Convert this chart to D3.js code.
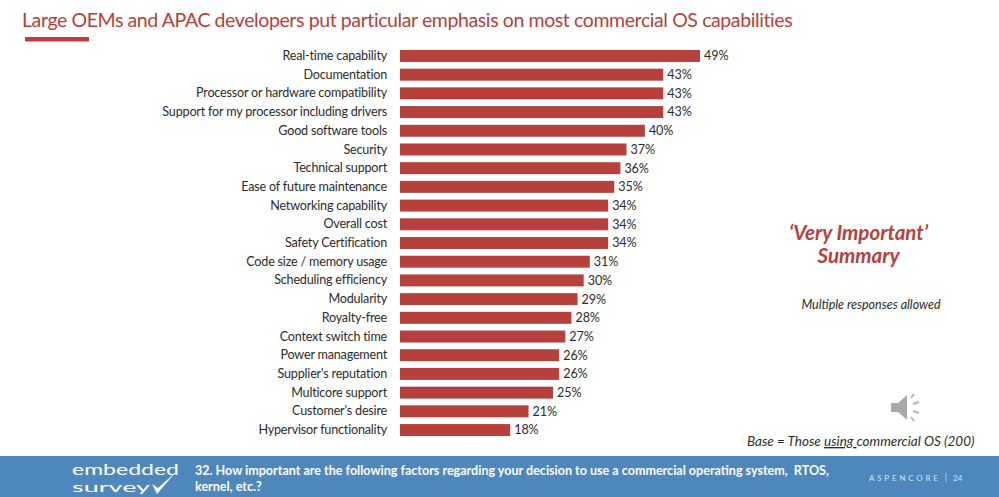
<!DOCTYPE html>
<html>
<head>
<meta charset="utf-8">
<script src="https://cdn.jsdelivr.net/npm/d3@7"></script>
<style>
  html, body { margin: 0; padding: 0; background: #fff; overflow: hidden; }
  svg { display: block; }
  text { font-family: Lato, "Noto Sans", sans-serif; white-space: pre; }
  .domain { display: none; }
</style>
</head>
<body>
<div class="svg"></div>
<script>
const data = [
    {factor: 'Real-time capability', pct: 49},
    {factor: 'Documentation', pct: 43},
    {factor: 'Processor or hardware compatibility', pct: 43},
    {factor: 'Support for my processor including drivers', pct: 43},
    {factor: 'Good software tools', pct: 40},
    {factor: 'Security', pct: 37},
    {factor: 'Technical support', pct: 36},
    {factor: 'Ease of future maintenance', pct: 35},
    {factor: 'Networking capability', pct: 34},
    {factor: 'Overall cost', pct: 34},
    {factor: 'Safety Certification', pct: 34},
    {factor: 'Code size / memory usage', pct: 31},
    {factor: 'Scheduling efficiency', pct: 30},
    {factor: 'Modularity', pct: 29},
    {factor: 'Royalty-free', pct: 28},
    {factor: 'Context switch time', pct: 27},
    {factor: 'Power management', pct: 26},
    {factor: "Supplier's reputation", pct: 26},
    {factor: 'Multicore support', pct: 25},
    {factor: "Customer's desire", pct: 21},
    {factor: 'Hypervisor functionality', pct: 18}
];

const red = '#b5403c', dark = '#2b2b2b', blue = '#4d87bc';
const width = 999, height = 497;

const svg = d3.select('.svg').append('svg')
    .attr('width', width)
    .attr('height', height);

// title + short rule under it
svg.append('text')
    .attr('x', 22).attr('y', 27)
    .attr('fill', red)
    .style('font-size', '19.5px').style('letter-spacing', '-0.4px')
    .text('Large OEMs and APAC developers put particular emphasis on most commercial OS capabilities');
svg.append('rect')
    .attr('x', 25).attr('y', 37).attr('width', 64).attr('height', 4.5)
    .attr('fill', red);

// chart
const x = d3.scaleLinear().domain([0, 49]).range([400, 700]);
const y = d3.scaleBand()
    .domain(data.map(d => d.factor))
    .range([46.6, 439.4])
    .paddingInner(0.36)
    .paddingOuter(0.18);

svg.append('g')
    .attr('transform', 'translate(400,0)')
    .call(d3.axisLeft(y).tickSize(0).tickPadding(13))
    .call(g => g.selectAll('text')
        .attr('fill', dark)
        .style('font-size', '12.6px').style('letter-spacing', '-0.2px'));

svg.selectAll('.bar')
    .data(data)
    .enter()
    .append('rect')
    .attr('class', 'bar')
    .attr('x', x(0))
    .attr('y', d => y(d.factor))
    .attr('width', d => x(d.pct) - x(0))
    .attr('height', y.bandwidth())
    .attr('fill', red);

svg.selectAll('.val')
    .data(data)
    .enter()
    .append('text')
    .attr('class', 'val')
    .attr('x', d => x(d.pct) + 4)
    .attr('y', d => y(d.factor) + y.bandwidth() / 2)
    .attr('dy', '0.35em')
    .attr('fill', dark)
    .style('font-size', '12.6px').style('letter-spacing', '-0.1px')
    .text(d => d.pct + '%');

// side notes
svg.append('text')
    .attr('x', 858.5).attr('y', 240)
    .attr('text-anchor', 'middle')
    .attr('fill', red)
    .style('font-size', '20.5px').style('font-weight', 700).style('font-style', 'italic')
    .text('‘Very Important’');
svg.append('text')
    .attr('x', 858.5).attr('y', 263)
    .attr('text-anchor', 'middle')
    .attr('fill', red)
    .style('font-size', '20.5px').style('font-weight', 700).style('font-style', 'italic')
    .text('Summary');
svg.append('text')
    .attr('x', 871).attr('y', 309)
    .attr('text-anchor', 'middle')
    .attr('fill', dark)
    .style('font-size', '12.5px').style('font-style', 'italic')
    .text('Multiple responses allowed');

// speaker icon
const speaker = svg.append('g').attr('transform', 'translate(891,393)');
speaker.append('path')
    .attr('d', 'M0 10 L7 10 L16 2 L16 27 L7 19 L0 19 Z')
    .attr('fill', '#a9a9a9');
[[20, 5, 23, 1], [22, 11, 28, 9], [22, 18, 28, 20], [20, 24, 23, 28]].forEach(s => {
    speaker.append('line')
        .attr('x1', s[0]).attr('y1', s[1]).attr('x2', s[2]).attr('y2', s[3])
        .attr('stroke', '#b5b5b5').attr('stroke-width', 2);
});

// base note
const base = svg.append('text')
    .attr('x', 747).attr('y', 446)
    .attr('fill', dark)
    .style('font-size', '13.5px').style('font-style', 'italic');
base.append('tspan').text('Base = Those ');
base.append('tspan').style('text-decoration', 'underline').text('using ');
base.append('tspan').text('commercial OS (200)');

// footer band
svg.append('rect')
    .attr('x', 0).attr('y', 456).attr('width', width).attr('height', height - 456)
    .attr('fill', blue);

svg.append('text')
    .attr('x', 72).attr('y', 475)
    .attr('fill', '#fff')
    .attr('textLength', 107).attr('lengthAdjust', 'spacingAndGlyphs')
    .style('font-size', '16px')
    .text('embedded');
svg.append('text')
    .attr('x', 72).attr('y', 492)
    .attr('fill', '#fff')
    .attr('textLength', 78).attr('lengthAdjust', 'spacingAndGlyphs')
    .style('font-size', '13.5px')
    .text('survey');
svg.append('path')
    .attr('d', 'M152 484 L157 494 L176 472 L158 488 Z')
    .attr('fill', '#fff');

svg.append('text')
    .attr('x', 195).attr('y', 475)
    .attr('fill', '#fff')
    .style('font-size', '12.55px').style('font-weight', 700)
    .text('32. How important are the following factors regarding your decision to use a commercial operating system,  RTOS,');
svg.append('text')
    .attr('x', 195).attr('y', 491)
    .attr('fill', '#fff')
    .style('font-size', '12.55px').style('font-weight', 700)
    .text('kernel, etc.?');

svg.append('text')
    .attr('x', 869).attr('y', 481)
    .attr('fill', '#d5e3f0')
    .style('font-size', '8px').style('letter-spacing', '2.8px')
    .text('ASPENCORE');
svg.append('line')
    .attr('x1', 946).attr('x2', 946).attr('y1', 473).attr('y2', 482)
    .attr('stroke', '#d5e3f0').attr('stroke-width', 0.7);
svg.append('text')
    .attr('x', 953).attr('y', 481)
    .attr('fill', '#d5e3f0')
    .style('font-size', '8px')
    .text('24');
</script>
</body>
</html>
